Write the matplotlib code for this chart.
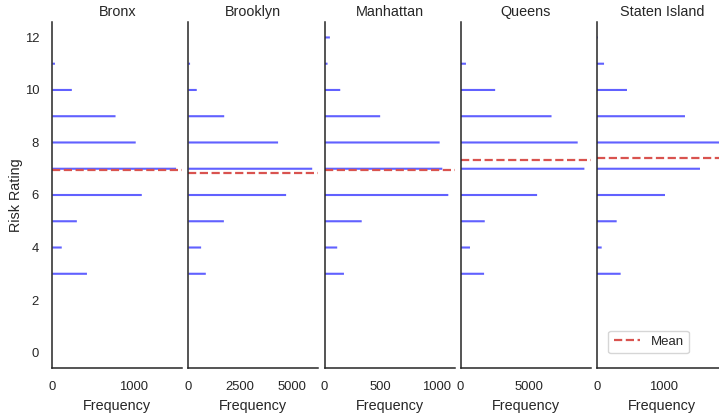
import matplotlib
matplotlib.use("Agg")
import matplotlib.pyplot as plt
import seaborn as sns

sns.set_theme(style="white")
plt.rcParams['font.family'] = ['Liberation Sans', 'DejaVu Sans']

# Datos
boroughs = ["Bronx", "Brooklyn", "Manhattan", "Queens", "Staten Island"]
ratings = [3, 4, 5, 6, 7, 8, 9, 10, 11, 12]
bronx = [429, 117, 304, 1108, 1533, 1033, 783, 242, 33, 0]
brooklyn = [839, 613, 1710, 4710, 5968, 4323, 1726, 403, 80, 0]
manhattan = [173, 113, 331, 1101, 1048, 1024, 495, 140, 27, 48]
queens = [1707, 683, 1756, 5561, 9000, 8512, 6610, 2512, 390, 20]
staten = [356, 74, 297, 1015, 1535, 1840, 1312, 450, 109, 15]
means = [6.94, 6.82, 6.97, 7.33, 7.41]
xticks = [[0, 1000], [0, 2500, 5000], [0, 500, 1000], [0, 5000], [0, 1000]]

freqs = [bronx, brooklyn, manhattan, queens, staten]

fig = plt.figure(figsize=(7.19, 4.18), dpi=100)
W, H = 719, 418
axes = []
for i in range(5):
    left = 52.3 + i * 136.1
    rect = [left / W, 49.7 / H, 130 / W, 346.6 / H]
    ax = fig.add_axes(rect, sharey=axes[0] if axes else None)
    axes.append(ax)

for i, ax in enumerate(axes):
    bars = ax.barh(ratings, freqs[i], height=0.08, color="blue", alpha=0.62, linewidth=0)
    for b in bars:
        b.set_snap(False)
    ax.axhline(means[i], color="#d9534f", linestyle="--", linewidth=1.6, label="Mean")
    ax.set_xlim(0, max(freqs[i]) * 1.05)
    ax.set_xticks(xticks[i])
    ax.set_title(boroughs[i], fontsize=10.4, pad=4)
    ax.set_xlabel("Frequency", fontsize=10.4)
    ax.tick_params(labelsize=9.4)
    for s in ["top", "right"]:
        ax.spines[s].set_visible(False)
    for s in ["left", "bottom"]:
        ax.spines[s].set_color("#262626")
        ax.spines[s].set_linewidth(1.1)
    if i > 0:
        ax.tick_params(labelleft=False)

axes[0].set_ylim(-0.6, 12.6)
axes[0].set_yticks([0, 2, 4, 6, 8, 10, 12])
axes[0].set_ylabel("Risk Rating", fontsize=10.4, labelpad=1)

axes[-1].legend(loc="lower left", bbox_to_anchor=(608.3 / W, (418 - 353.3) / H),
                bbox_transform=fig.transFigure, borderaxespad=0, fontsize=9.5)

fig.savefig("out.png", dpi=100)
